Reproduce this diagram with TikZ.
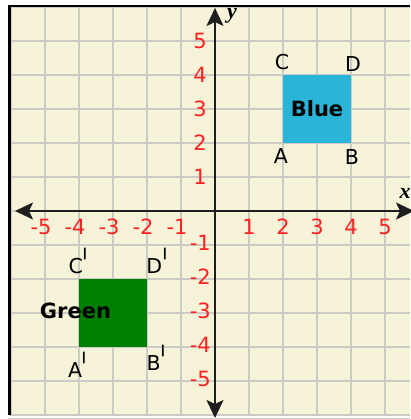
\documentclass[tikz,border=0pt]{standalone}
\usepackage{fontspec}
\setmainfont{DejaVu Sans}
\newfontfamily\axfont{Liberation Serif}
\usetikzlibrary{arrows.meta}
\definecolor{bg}{HTML}{F7F3D9}
\definecolor{gridc}{HTML}{CDCBC6}
\definecolor{axisc}{HTML}{1E1E1E}
\definecolor{numred}{HTML}{FF2020}
\definecolor{bluec}{HTML}{2AB4D8}
\definecolor{greenc}{HTML}{007F00}
\newcommand{\prm}{\raisebox{-6pt}{\scalebox{1}[2.1]{\textquotesingle}}}
\begin{document}
\begin{tikzpicture}[x=1pt,y=-1pt,
  gridline/.style={draw=gridc, line width=1.6pt},
  axisline/.style={draw=axisc, line width=2pt,
    {Stealth[length=18pt,width=17pt,inset=4pt]}-{Stealth[length=18pt,width=17pt,inset=4pt]}},
  numlbl/.style={text=numred, font=\fontsize{21}{21}\selectfont, inner sep=0pt},
  ptlbl/.style={text=black, font=\fontsize{20.5}{20.5}\selectfont, inner sep=0pt},
  sqname/.style={text=black, font=\bfseries\fontsize{21}{21}\selectfont, inner sep=0pt},
  square/.style={minimum size=68pt, inner sep=0pt, draw=none},
  axname/.style={font=\axfont\bfseries\itshape\fontsize{22}{22}\selectfont, inner sep=0pt}]
\useasboundingbox (0,0) rectangle (410,419);
\fill[white] (0,0) rectangle (410,419);
\fill[bg] (8,6) rectangle (410,415);
% grid
\foreach \k in {0,...,11} \draw[gridline] ({11+34*\k},7) -- ({11+34*\k},415);
\foreach \k in {0,...,12} \draw[gridline] (9,{7+34*\k}) -- (410,{7+34*\k});
% frame
\draw[black, line width=2.5pt] (9.25,5) -- (9.25,415);
\draw[black, line width=2pt] (8,6) -- (410,6);
\draw[gridc, line width=1pt] (8,418) -- (410,418);
% squares
\node[square, fill=bluec, sqname] (blue) at (317,109) {Blue};
\node[square, fill=greenc] (green) at (113,313) {};
\node[sqname] (greentxt) at (75.5,311) {Green};
% axes
\coordinate (xl) at (15,211);
\coordinate (xr) at (414,211);
\coordinate (yt) at (215,8);
\coordinate (yb) at (215,418);
\draw[axisline] (xl) -- (xr);
\draw[axisline] (yb) -- (yt);
\node[axname] (ylab) at (232,16) {y};
\node[axname] (xlab) at (405,193) {x};
% axis numbers
\foreach \k in {1,...,5} {
  \node[numlbl] (xp\k) at ({215+34*\k},227) {\k};
  \node[numlbl] (xn\k) at ({215-34*\k-4},227) {-\k};
  \node[numlbl, anchor=east] (yp\k) at (207,{211-34*\k}) {\k};
  \node[numlbl, anchor=east] (yn\k) at (211,{211+34*\k-2}) {-\k};
}
% point labels
\node[ptlbl] (C) at (282,62) {C};
\node[ptlbl] (D) at (353,64) {D};
\node[ptlbl] (A) at (281,156) {A};
\node[ptlbl] (B) at (352,157) {B};
\node[ptlbl, anchor=base] (Cp) at (78.5,273) {C\prm};
\node[ptlbl, anchor=base] (Dp) at (157,273) {D\prm};
\node[ptlbl, anchor=base] (Ap) at (77.5,377) {A\kern-1pt\prm};
\node[ptlbl, anchor=base] (Bp) at (156.5,370) {B\prm};
\end{tikzpicture}
\end{document}
